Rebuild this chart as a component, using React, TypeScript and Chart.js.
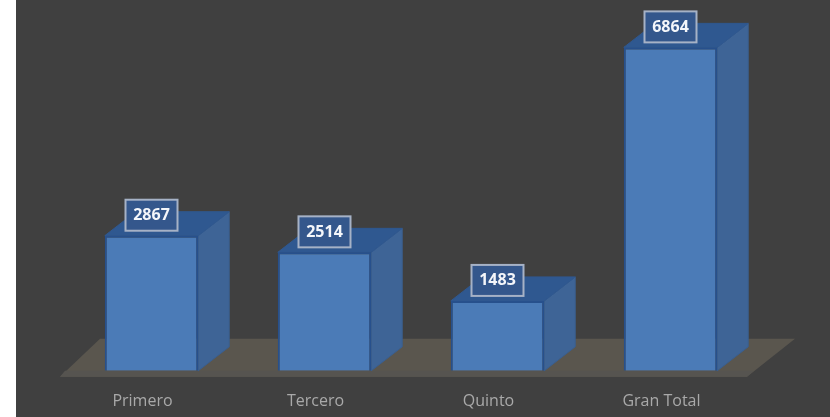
import React, { useEffect, useRef } from "react";
import { Chart, registerables } from "chart.js";

Chart.register(...registerables);

const categories: string[] = ["Primero", "Tercero", "Quinto", "Gran Total"];
const totals: number[] = [2867, 2514, 1483, 6864];

const DX = 31;
const DY = -24;

const floorPlugin = {
  id: "floor",
  beforeDatasetsDraw(chart: any) {
    const { ctx, chartArea: a } = chart;
    ctx.save();
    ctx.fillStyle = "#5a564e";
    ctx.beginPath();
    ctx.moveTo(a.left - 5, a.bottom + 6);
    ctx.lineTo(a.right - 10, a.bottom + 6);
    ctx.lineTo(a.right + 38, a.bottom - 32);
    ctx.lineTo(a.left + 35, a.bottom - 32);
    ctx.closePath();
    ctx.fill();
    ctx.fillStyle = "#565450";
    ctx.beginPath();
    ctx.moveTo(a.left, a.bottom);
    ctx.lineTo(a.right - 3, a.bottom);
    ctx.lineTo(a.right - 10, a.bottom + 6);
    ctx.lineTo(a.left - 5, a.bottom + 6);
    ctx.closePath();
    ctx.fill();
    ctx.restore();
  },
};

const depthPlugin = {
  id: "depth",
  beforeDatasetsDraw(chart: any) {
    const { ctx } = chart;
    ctx.save();
    ctx.lineWidth = 1;
    chart.getDatasetMeta(0).data.forEach((bar: any) => {
      const l = bar.x - bar.width / 2;
      const r = bar.x + bar.width / 2;
      const t = bar.y;
      const b = bar.base;
      ctx.fillStyle = "#3e6496";
      ctx.strokeStyle = "#3a5f90";
      ctx.beginPath();
      ctx.moveTo(r, t);
      ctx.lineTo(r + DX, t + DY);
      ctx.lineTo(r + DX, b + DY);
      ctx.lineTo(r, b);
      ctx.closePath();
      ctx.fill();
      ctx.stroke();
      ctx.fillStyle = "#2f5890";
      ctx.strokeStyle = "#2f5890";
      ctx.beginPath();
      ctx.moveTo(l, t);
      ctx.lineTo(l + DX, t + DY);
      ctx.lineTo(r + DX, t + DY);
      ctx.lineTo(r, t);
      ctx.closePath();
      ctx.fill();
      ctx.stroke();
    });
    ctx.restore();
  },
};

const labelPlugin = {
  id: "boxLabels",
  afterDatasetsDraw(chart: any) {
    const { ctx } = chart;
    ctx.save();
    ctx.font = "bold 16px 'Open Sans'";
    ctx.textAlign = "center";
    ctx.textBaseline = "middle";
    chart.getDatasetMeta(0).data.forEach((bar: any, i: number) => {
      const cx = bar.x;
      const cy = bar.y - 21;
      ctx.fillStyle = "#34578c";
      ctx.strokeStyle = "#a6b2c6";
      ctx.lineWidth = 2;
      ctx.fillRect(cx - 26, cy - 15, 52, 31);
      ctx.strokeRect(cx - 26, cy - 15, 52, 31);
      ctx.fillStyle = "#f4f6fa";
      ctx.fillText(String(totals[i]), cx, cy + 1);
    });
    ctx.restore();
  },
};

export default function App() {
  const ref = useRef<HTMLCanvasElement>(null);
  useEffect(() => {
    document.body.style.margin = "0";
    document.body.style.background = "#ffffff";
    const chart = new Chart(ref.current!, {
      type: "bar",
      data: {
        labels: categories,
        datasets: [
          {
            data: totals,
            backgroundColor: "#4b7bb7",
            borderColor: "#27508c",
            borderWidth: 2,
            barPercentage: 1,
            categoryPercentage: 0.54,
          },
        ],
      },
      options: {
        animation: false,
        responsive: false,
        layout: { padding: { left: 49, right: 73, top: 8, bottom: 8 } },
        plugins: { legend: { display: false }, tooltip: { enabled: false } },
        scales: {
          x: {
            grid: { display: false },
            border: { display: false },
            ticks: {
              color: "#a9a9a9",
              padding: 13,
              maxRotation: 0,
              labelOffset: -9,
              font: { family: "'Open Sans'", size: 16 },
            },
          },
          y: { display: false, min: 0, max: 7700 },
        },
      },
      plugins: [floorPlugin, depthPlugin, labelPlugin],
    });
    return () => chart.destroy();
  }, []);
  return (
    <div style={{ position: "absolute", left: 16, top: 0, width: 814, height: 417, background: "#404040", overflow: "hidden" }}>
      <canvas ref={ref} width={814} height={432} style={{ display: "block", filter: "blur(0.7px)" }} />
    </div>
  );
}
